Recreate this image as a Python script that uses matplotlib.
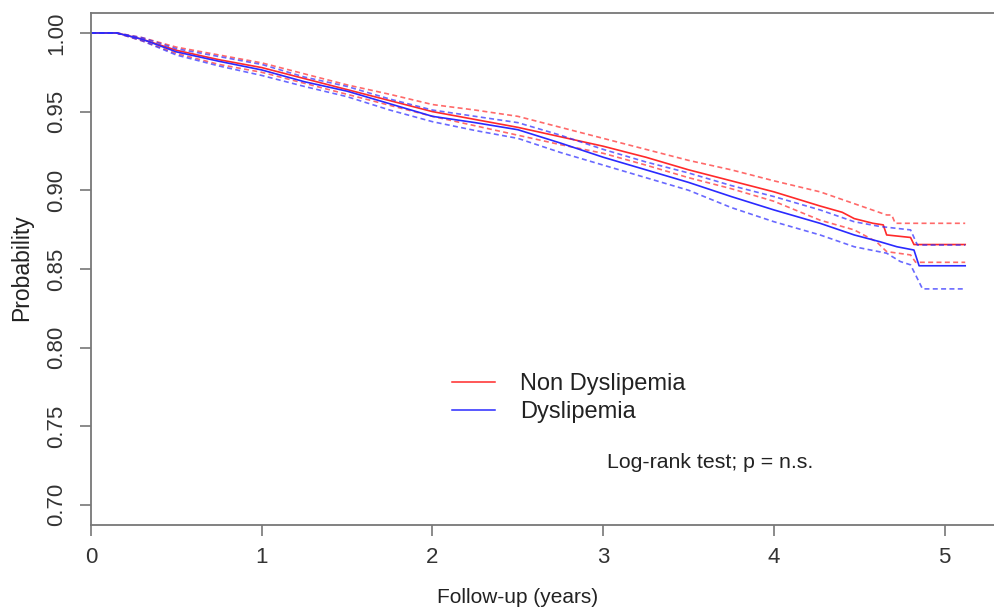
import numpy as np
import matplotlib
matplotlib.use("Agg")
import matplotlib.pyplot as plt
from matplotlib.lines import Line2D

plt.rcParams['font.family'] = ['Liberation Sans', 'DejaVu Sans']

# Kaplan-Meier estimates with 95% confidence bands, follow-up in years
time_common = [0, 0.15, 0.3, 0.5, 0.75, 1.0, 1.25, 1.5, 1.75, 2.0, 2.25,
               2.5, 2.75, 3.0, 3.25, 3.5, 3.75, 4.0, 4.27]

# Non Dyslipemia
surv_non = [1, 1, 0.996, 0.989, 0.983, 0.978, 0.971, 0.964, 0.957, 0.950, 0.945,
            0.940, 0.934, 0.928, 0.921, 0.913, 0.906, 0.899, 0.890]
upper_non = [1, 1, 0.997, 0.991, 0.986, 0.981, 0.974, 0.967, 0.961, 0.9545, 0.951,
             0.947, 0.940, 0.933, 0.926, 0.919, 0.913, 0.906, 0.899]
lower_non = [1, 1, 0.995, 0.987, 0.980, 0.975, 0.968, 0.961, 0.954, 0.947, 0.941,
             0.935, 0.929, 0.9235, 0.916, 0.908, 0.901, 0.893, 0.881]

# Dyslipemia
surv_dys = [1, 1, 0.996, 0.988, 0.982, 0.9765, 0.969, 0.963, 0.955, 0.947, 0.943,
            0.9385, 0.930, 0.921, 0.913, 0.905, 0.896, 0.8875, 0.879]
upper_dys = [1, 1, 0.997, 0.990, 0.985, 0.980, 0.972, 0.966, 0.958, 0.951, 0.947,
             0.943, 0.935, 0.926, 0.918, 0.911, 0.903, 0.896, 0.8875]
lower_dys = [1, 1, 0.995, 0.986, 0.979, 0.973, 0.966, 0.9595, 0.951, 0.9436, 0.938,
             0.933, 0.924, 0.916, 0.908, 0.900, 0.889, 0.880, 0.8716]

# tails after 4.27 years, where the steps get large
tail_t_surv_non = [4.40, 4.47, 4.58, 4.64, 4.66, 4.80, 4.82, 5.12]
tail_v_surv_non = [0.886, 0.882, 0.879, 0.878, 0.8716, 0.870, 0.8655, 0.8655]
tail_t_upper_non = [4.52, 4.66, 4.69, 4.71, 5.12]
tail_v_upper_non = [0.8896, 0.8843, 0.8843, 0.879, 0.879]
tail_t_lower_non = [4.47, 4.60, 4.66, 4.80, 4.83, 5.12]
tail_v_lower_non = [0.8748, 0.8673, 0.861, 0.8589, 0.8542, 0.8542]

tail_t_surv_dys = [4.47, 4.62, 4.72, 4.82, 4.85, 5.12]
tail_v_surv_dys = [0.8716, 0.8673, 0.8641, 0.862, 0.852, 0.852]
tail_t_upper_dys = [4.47, 4.62, 4.80, 4.84, 5.12]
tail_v_upper_dys = [0.880, 0.877, 0.8748, 0.8652, 0.8652]
tail_t_lower_dys = [4.47, 4.66, 4.74, 4.80, 4.87, 5.12]
tail_v_lower_dys = [0.8641, 0.860, 0.8547, 0.8526, 0.8373, 0.8373]

groups = ["Non Dyslipemia", "Dyslipemia"]
xticks = [0, 1, 2, 3, 4, 5]
yticks = [0.70, 0.75, 0.80, 0.85, 0.90, 0.95, 1.00]

W, H = 994, 610
fig = plt.figure(figsize=(W / 100, H / 100), dpi=100)
# plot box runs past the right edge of the image
ax = fig.add_axes([91 / W, 1 - 525 / H, 922 / W, 512 / H])

red = "#ff2a2a"
blue = "#2a2aff"

def curve(t, v, tt, tv, color, dashed):
    x = list(t) + list(tt)
    y = list(v) + list(tv)
    if dashed:
        ax.plot(x, y, color=color, lw=1.2, alpha=0.7, dashes=(3, 2))
    else:
        ax.plot(x, y, color=color, lw=1.2)

curve(time_common, upper_non, tail_t_upper_non, tail_v_upper_non, red, True)
curve(time_common, lower_non, tail_t_lower_non, tail_v_lower_non, red, True)
curve(time_common, surv_non, tail_t_surv_non, tail_v_surv_non, red, False)
curve(time_common, upper_dys, tail_t_upper_dys, tail_v_upper_dys, blue, True)
curve(time_common, lower_dys, tail_t_lower_dys, tail_v_lower_dys, blue, True)
curve(time_common, surv_dys, tail_t_surv_dys, tail_v_surv_dys, blue, False)

ax.set_xlim(0, 5.4)
ax.set_ylim(0.6872, 1.0127)

ax.set_xticks(xticks)
ax.set_xticklabels([str(x) for x in xticks])
ax.set_yticks(yticks)
ax.set_yticklabels(["%.2f" % y for y in yticks], rotation=90, va="center")

for s in ax.spines.values():
    s.set_color("#777777")
    s.set_linewidth(1.3)
ax.tick_params(axis="both", colors="#777777", labelcolor="#333333",
               labelsize=16, length=8, width=1.2)
ax.tick_params(axis="x", pad=8)
ax.tick_params(axis="y", pad=9)

handles = [Line2D([], [], color=red, lw=1.1), Line2D([], [], color=blue, lw=1.1)]
ax.legend(handles, groups, loc="upper left", frameon=False, fontsize=17,
          bbox_to_anchor=(440 / W, 1 - 361 / H), bbox_transform=fig.transFigure,
          handlelength=1.85, handletextpad=1.05, labelspacing=0.27,
          borderpad=0, labelcolor="#222222")

fig.text(607 / W, 1 - 462 / H, "Log-rank test; p = n.s.", fontsize=15.3,
         ha="left", va="center", color="#222222")

fig.text(22 / W, 1 - 268 / H, "Probability", fontsize=16.5, rotation=90,
         ha="center", va="center", color="#222222")
fig.text(518 / W, 1 - 603 / H, "Follow-up (years)", fontsize=15,
         ha="center", va="baseline", color="#222222")

fig.savefig("out.png", dpi=100)
